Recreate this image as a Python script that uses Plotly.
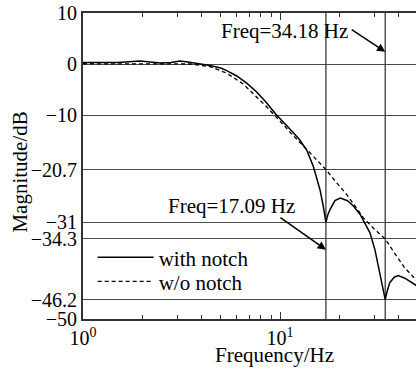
import numpy as np
import plotly.graph_objects as go

# ---- data ----
freq_notch = [1.0, 1.5, 1.95, 2.2, 2.46, 2.8, 3.1, 3.4, 3.8, 4.41, 5.0, 5.36, 6.0, 6.8, 7.61,
              8.5, 9.5, 10.5, 11.5, 12.6, 13.7, 14.76, 15.96, 16.5, 17.09, 17.5, 17.9, 19.0,
              20.2, 22.0, 23.5, 25.5, 27.0, 28.6, 30.3, 32.1, 33.2, 34.18, 35.0, 36.0, 38.0,
              39.8, 43.0, 47.3, 50.0]
mag_notch = [0.3, 0.3, 0.6, 0.4, 0.2, 0.3, 0.6, 0.4, 0.1, -0.3, -0.8, -1.3, -2.3, -3.8, -5.5,
             -7.5, -9.8, -11.5, -13.2, -14.9, -17.0, -20.1, -24.7, -27.5, -31.0, -29.5, -28.6, -26.8,
             -26.3, -26.8, -27.8, -29.5, -31.2, -33.1, -36.4, -41.0, -44.0, -46.2, -44.5, -42.9, -41.8,
             -41.5, -42.0, -42.9, -43.6]

freq_plain = [1.0, 2.0, 3.0, 3.5, 4.41, 5.36, 6.5, 7.61, 8.5, 10.0, 11.5, 13.7, 15.5, 17.09,
              19.0, 21.8, 24.0, 26.5, 30.0, 34.18, 38.0, 43.0, 49.0, 50.0]
mag_plain = [0.05, 0.05, 0.1, 0.0, -0.5, -1.8, -3.9, -6.4, -8.3, -11.2, -13.8, -16.8, -19.0, -20.7,
             -22.9, -25.6, -27.8, -30.2, -32.3, -34.3, -37.0, -40.0, -42.3, -42.7]

notch_freqs = [17.09, 34.18]
notch_labels = ["Freq=17.09 Hz", "Freq=34.18 Hz"]

y_ticks = [10, 0, -10, -20.7, -31, -34.3, -46.2, -50]
y_tick_text = ["10", "0", "\u221210", "\u221220.7", "\u221231", "\u221234.3", "\u221246.2", "\u221250"]
x_ticks = [1, 10]
x_tick_text = ["10<sup>0</sup>", "10<sup>1</sup>"]
x_minor = [2, 3, 4, 5, 6, 7, 8, 9, 20, 30, 40, 50]

FONT = "Liberation Serif, Times New Roman, serif"
AX = "#333333"

fig = go.Figure()

for f in notch_freqs:
    fig.add_trace(go.Scatter(x=[f, f], y=[min(y_ticks), max(y_ticks)], mode="lines",
                             line=dict(color="#3a3a3a", width=1.3),
                             showlegend=False, hoverinfo="skip"))

fig.add_trace(go.Scatter(x=freq_notch, y=mag_notch, mode="lines", name="with notch",
                         line=dict(color="black", width=1.5), legend="legend"))
fig.add_trace(go.Scatter(x=freq_plain, y=mag_plain, mode="lines", name="w/o notch",
                         line=dict(color="black", width=1.3, dash="4px,3px"), legend="legend2"))

leg_common = dict(xanchor="left", yanchor="middle", bgcolor="rgba(0,0,0,0)",
                  font=dict(family=FONT, size=21), itemwidth=56)

fig.update_layout(
    width=416, height=371,
    margin=dict(l=83, r=0, t=13, b=52),
    paper_bgcolor="white", plot_bgcolor="white",
    font=dict(family=FONT, size=20, color="black"),
    showlegend=True,
    legend=dict(x=0.029, y=0.2003, **leg_common),
    legend2=dict(x=0.029, y=0.1219, **leg_common),
    xaxis=dict(type="log", range=[0, 1.69], tickvals=x_ticks, ticktext=x_tick_text,
               ticks="inside", ticklen=7, tickwidth=1.2, tickcolor=AX,
               minor=dict(ticks="inside", ticklen=4, tickwidth=1.2, tickcolor=AX,
                          tickvals=x_minor, showgrid=False),
               showline=True, linewidth=2, linecolor=AX, mirror="ticks",
               showgrid=False, zeroline=False,
               tickfont=dict(family=FONT, size=20)),
    yaxis=dict(range=[-50, 10], tickvals=y_ticks, ticktext=y_tick_text,
               ticks="", showgrid=True, gridcolor="#4a4a4a", gridwidth=1,
               showline=True, linewidth=2, linecolor=AX, mirror=False,
               zeroline=False, tickfont=dict(family=FONT, size=20)),
)

# notch labels
fig.add_annotation(x=0.754, y=-27.9, xref="x", yref="y", text=notch_labels[0],
                   showarrow=False, font=dict(family=FONT, size=21))
fig.add_annotation(x=1.023, y=6.46, xref="x", yref="y", text=notch_labels[1],
                   showarrow=False, font=dict(family=FONT, size=21))
# arrows
fig.add_annotation(x=np.log10(notch_freqs[0]), y=-36.4, xref="x", yref="y", text="",
                   showarrow=True, arrowhead=2, arrowsize=1.1, arrowwidth=1.5,
                   arrowcolor="black", ax=-47, ay=-33)
fig.add_annotation(x=np.log10(notch_freqs[1]), y=2.4, xref="x", yref="y", text="",
                   showarrow=True, arrowhead=2, arrowsize=1.1, arrowwidth=1.5,
                   arrowcolor="black", ax=-35, ay=-23)

# axis titles
fig.add_annotation(x=0.5736, y=-0.1176, xref="paper", yref="paper", text="Frequency/Hz",
                   showarrow=False, yanchor="middle", font=dict(family=FONT, size=21))
fig.add_annotation(x=-0.189, y=0.4788, xref="paper", yref="paper", text="Magnitude/dB",
                   showarrow=False, textangle=-90, xanchor="center", yanchor="middle",
                   font=dict(family=FONT, size=21))

fig.write_html("out.html")
